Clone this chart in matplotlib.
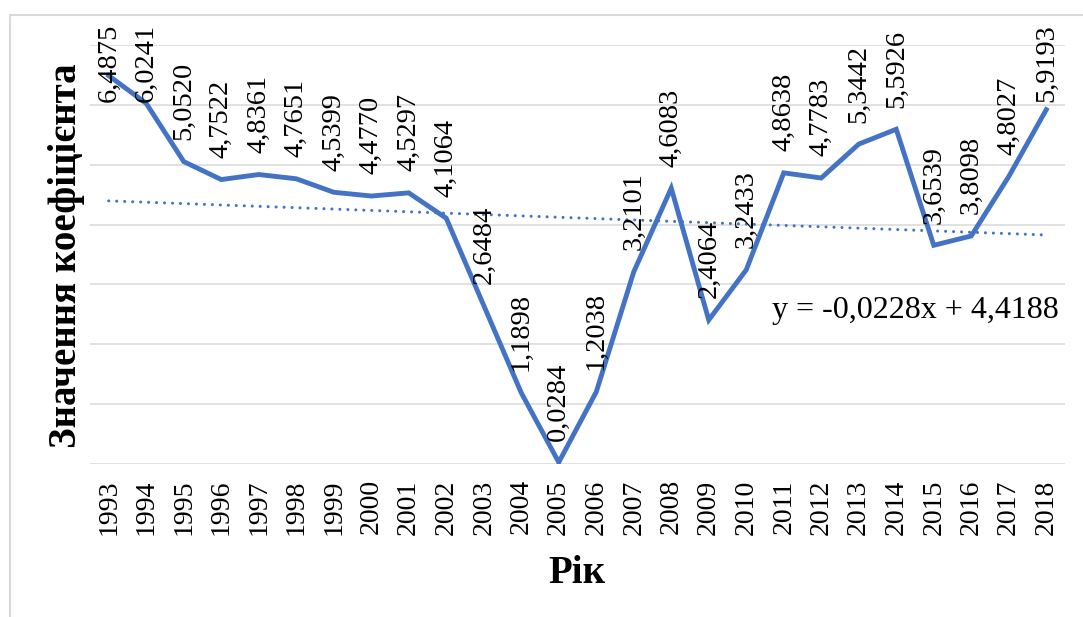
import matplotlib
matplotlib.use("Agg")
import matplotlib.pyplot as plt
from matplotlib.patches import Rectangle
import numpy as np

# ---DATA---#
years = list(range(1993, 2019))
values = [6.4875, 6.0241, 5.0520, 4.7522, 4.8361, 4.7651, 4.5399, 4.4770,
          4.5297, 4.1064, 2.6484, 1.1898, 0.0284, 1.2038, 3.2101, 4.6083,
          2.4064, 3.2433, 4.8638, 4.7783, 5.3442, 5.5926, 3.6539, 3.8098,
          4.8027, 5.9193]
trend_slope = -0.0228
trend_intercept = 4.4188
equation = "y = -0,0228x + 4,4188"

plt.rcParams['font.family'] = ['Liberation Serif', 'DejaVu Serif']

blue = "#4472C4"
grid_gray = "#D9D9D9"

# ---FIGURE---#
f = plt.figure(figsize=(10.83, 6.17), dpi=100)
ax = f.add_axes([90 / 1083, 153 / 617, 975 / 1083, 419 / 617])

x = np.arange(len(years))
ax.plot(x, values, color=blue, linewidth=3.5, solid_joinstyle='miter', zorder=3)

# linear trend over the series index 1..n
n = np.arange(1, len(years) + 1)
trend = trend_slope * n + trend_intercept
ax.plot(x, trend, color=blue, linewidth=2.2, linestyle=(0, (0.01, 2.6)),
        dash_capstyle='round', zorder=2)

# value labels, rotated and kept inside the chart area
label_cap = 5.69
for xi, v in zip(x, values):
    ax.annotate(f"{v:.4f}".replace(".", ","), xy=(xi, min(v, label_cap)),
                xytext=(0, 15.5), textcoords='offset points',
                rotation=90, ha='center', va='bottom', fontsize=20.5,
                annotation_clip=False, zorder=4)

ax.text(0.6995, 0.3675, equation, transform=ax.transAxes, ha='left',
        va='center', fontsize=23)

ax.set_xlim(-0.5, len(years) - 0.5)
ax.set_ylim(0, 7)
ax.set_yticks(np.arange(0, 8, 1))
ax.set_yticklabels([])
ax.set_xticks(x)
ax.set_xticklabels([str(y) for y in years], rotation=90, fontsize=20)
ax.tick_params(axis='both', length=0)
ax.tick_params(axis='x', pad=11)
ax.grid(True, axis='y', color=grid_gray, linewidth=1.1)
ax.set_axisbelow(True)
for s in ax.spines.values():
    s.set_visible(False)

# axis titles
f.text(67 / 1083, 1 - 256 / 617, "Значення коефіцієнта", rotation=90,
       ha='center', va='center', fontsize=28, fontweight='bold')
f.text(577 / 1083, 1 - 583 / 617, "Рік", ha='center', va='baseline',
       fontsize=28, fontweight='bold')

# chart border
f.patches.append(Rectangle((10 / 1083, -0.1), 1.2, 1 - 15 / 617 + 0.1,
                           transform=f.transFigure, fill=False,
                           edgecolor=grid_gray, linewidth=1.5))

f.savefig("out.png", dpi=100)
